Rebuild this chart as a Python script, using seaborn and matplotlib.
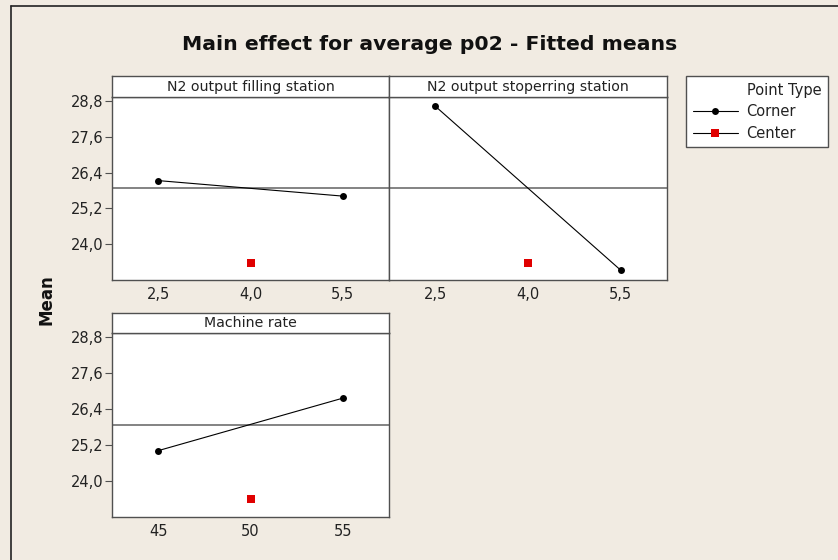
import seaborn as sns
import numpy as np
import pandas as pd
import matplotlib.pyplot as plt
from matplotlib.lines import Line2D
from matplotlib.ticker import FixedLocator

# fitted means
factors = ["N2 output filling station", "N2 output stoperring station", "Machine rate"]
corner_levels = [[2.5, 5.5], [2.5, 5.5], [45, 55]]
corner_means = [[26.13, 25.61], [28.62, 23.13], [25.01, 26.76]]
center_levels = [4.0, 4.0, 50]
center_means = [23.38, 23.38, 23.40]
grand_mean = 25.87

y_ticks = [24.0, 25.2, 26.4, 27.6, 28.8]
y_ticklabels = ["24,0", "25,2", "26,4", "27,6", "28,8"]
x_ticks = [[2.5, 4.0, 5.5], [2.5, 4.0, 5.5], [45, 50, 55]]
x_ticklabels = [["2,5", "4,0", "5,5"], ["2,5", "4,0", "5,5"], ["45", "50", "55"]]

bg = "#f1ebe2"
edge = "#505050"
red = "#e00000"

sns.set_style("white")
plt.rcParams['font.family'] = ['DejaVu Sans']

W, H = 838, 560
fig = plt.figure(figsize=(W / 100, H / 100), dpi=100, facecolor=bg)


def px(x0, y0, x1, y1):
    # pixel box -> figure fraction
    return [x0 / W, 1 - y1 / H, (x1 - x0) / W, (y1 - y0) / H]


# panel boxes: (left, strip top, plot top, right, bottom)
boxes = [(112, 76, 97, 389, 280), (389, 76, 97, 667, 280), (112, 313, 333, 389, 517)]

for i, (l, st, pt, r, b) in enumerate(boxes):
    ax = fig.add_axes(px(l, pt, r, b))
    ax.set_facecolor("white")
    df = pd.DataFrame({"x": corner_levels[i], "y": corner_means[i]})
    ax.axhline(grand_mean, color="#6e6e6e", lw=1.2, zorder=1)
    sns.lineplot(data=df, x="x", y="y", ax=ax, color="black", lw=0.8,
                 marker="o", markersize=5, markeredgewidth=0, zorder=3)
    sns.scatterplot(x=[center_levels[i]], y=[center_means[i]], ax=ax, color=red,
                    marker="s", s=30, linewidth=0, zorder=3)
    lo, hi = corner_levels[i]
    pad = (hi - lo) * 0.25
    ax.set_xlim(lo - pad, hi + pad)
    ax.set_ylim(22.8, 28.93)
    ax.xaxis.set_major_locator(FixedLocator(x_ticks[i]))
    ax.set_xticklabels(x_ticklabels[i], fontsize=10.5)
    ax.yaxis.set_major_locator(FixedLocator(y_ticks))
    ax.set_xlabel("")
    ax.set_ylabel("")
    ax.tick_params(axis="x", length=0, pad=5, colors="#222222")
    if i == 1:
        ax.tick_params(axis="y", left=False, labelleft=False)
    else:
        ax.set_yticklabels(y_ticklabels, fontsize=10.5)
        ax.tick_params(axis="y", left=True, length=5, width=0.8,
                       colors="#222222", pad=1)
        ax.tick_params(axis="y", color=edge)
    for s in ax.spines.values():
        s.set_color(edge)
        s.set_linewidth(1.0)

    # strip label
    sx = fig.add_axes(px(l, st, r, pt))
    sx.set_facecolor("white")
    sx.set_xticks([])
    sx.set_yticks([])
    for s in sx.spines.values():
        s.set_color(edge)
        s.set_linewidth(1.0)
    sx.text(0.5, 0.48, factors[i], ha="center", va="center", fontsize=10.2,
            color="#222222", transform=sx.transAxes)

fig.text(430 / W, 1 - 45 / H, "Main effect for average p02 - Fitted means",
         ha="center", va="center", fontsize=14.7, fontweight="bold", color="#111111")
fig.text(46 / W, 1 - 300 / H, "Mean", ha="center", va="center", rotation=90,
         fontsize=12, fontweight="bold", color="#111111")

handles = [Line2D([], [], color="none"),
           Line2D([], [], color="black", lw=0.8, marker="o", markersize=5, markeredgewidth=0),
           Line2D([], [], color="black", lw=0.8, marker="s", markersize=5.5,
                  markerfacecolor=red, markeredgewidth=0)]
leg = fig.legend(handles, ["Point Type", "Corner", "Center"], loc="upper left",
                 bbox_to_anchor=(686 / W, 1 - 76 / H), fontsize=10.5, frameon=True,
                 fancybox=False, framealpha=1, handlelength=3.1, handletextpad=0.6,
                 borderpad=0.45, labelspacing=0.45, borderaxespad=0)
leg.get_frame().set_edgecolor(edge)
leg.get_frame().set_facecolor("white")
leg.get_frame().set_linewidth(1.0)
for t in leg.get_texts():
    t.set_color("#222222")

# outer frame of the original graph window
fig.add_artist(Line2D([11 / W, 11 / W], [0, 1 - 6 / H], color="#222222", lw=1.2))
fig.add_artist(Line2D([11 / W, 1], [1 - 6 / H, 1 - 6 / H], color="#222222", lw=1.2))

fig.savefig("out.png", dpi=100, facecolor=bg)
